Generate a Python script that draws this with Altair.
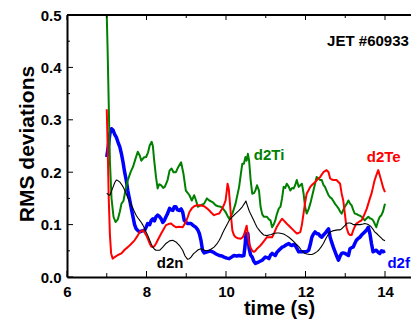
import altair as alt
import pandas as pd

# ---------------- data ----------------
ti_t = [7.00, 7.02, 7.05, 7.08, 7.12, 7.17, 7.22, 7.28, 7.33, 7.37, 7.42, 7.47, 7.53, 7.60, 7.66, 7.72,
        7.78, 7.83, 7.87, 7.93, 7.99, 8.04, 8.08, 8.13, 8.16, 8.19, 8.24, 8.28, 8.32, 8.37, 8.42, 8.46,
        8.53, 8.58, 8.63, 8.68, 8.74, 8.80, 8.87, 8.93, 8.99, 9.04, 9.08, 9.14, 9.20, 9.25, 9.29, 9.37,
        9.45, 9.52, 9.58, 9.66, 9.74, 9.80, 9.87, 9.93, 9.99, 10.05, 10.08, 10.16, 10.24, 10.33, 10.38,
        10.41, 10.45, 10.49, 10.52, 10.55, 10.58, 10.62, 10.66, 10.70, 10.74, 10.78, 10.83, 10.87, 10.91,
        10.95, 11.03, 11.08, 11.12, 11.16, 11.20, 11.24, 11.28, 11.33, 11.37, 11.41, 11.45, 11.49, 11.53,
        11.58, 11.62, 11.66, 11.70, 11.74, 11.78, 11.83, 11.87, 11.91, 11.95, 11.99, 12.03, 12.08, 12.12,
        12.16, 12.20, 12.24, 12.28, 12.33, 12.37, 12.41, 12.45, 12.49, 12.54, 12.58, 12.62, 12.66, 12.70,
        12.74, 12.78, 12.83, 12.87, 12.91, 12.95, 12.99, 13.04, 13.08, 13.12, 13.16, 13.20, 13.24, 13.29,
        13.33, 13.37, 13.41, 13.45, 13.49, 13.54, 13.58, 13.62, 13.66, 13.70, 13.74, 13.78, 13.83, 13.87,
        13.91, 13.95, 14.00]
ti_v = [0.500, 0.440, 0.330, 0.220, 0.150, 0.115, 0.105, 0.110, 0.125, 0.140, 0.145, 0.165, 0.185, 0.200, 0.210, 0.225,
        0.239, 0.232, 0.222, 0.228, 0.229, 0.238, 0.251, 0.258, 0.250, 0.225, 0.190, 0.169, 0.177, 0.175, 0.170, 0.172,
        0.185, 0.203, 0.207, 0.200, 0.200, 0.210, 0.219, 0.197, 0.165, 0.160, 0.156, 0.146, 0.156, 0.145, 0.134, 0.137,
        0.140, 0.150, 0.146, 0.143, 0.137, 0.135, 0.134, 0.130, 0.124, 0.115, 0.111, 0.121, 0.140, 0.172, 0.200,
        0.216, 0.216, 0.229, 0.222, 0.235, 0.223, 0.185, 0.159, 0.160, 0.165, 0.175, 0.165, 0.134, 0.120,
        0.115, 0.115, 0.110, 0.108, 0.095, 0.100, 0.108, 0.120, 0.131, 0.134, 0.150, 0.172, 0.170, 0.178,
        0.172, 0.165, 0.170, 0.169, 0.175, 0.185, 0.172, 0.175, 0.178, 0.160, 0.134, 0.121, 0.130, 0.140,
        0.152, 0.165, 0.178, 0.191, 0.188, 0.185, 0.185, 0.176, 0.172, 0.163, 0.156, 0.152, 0.150, 0.145,
        0.140, 0.136, 0.131, 0.125, 0.121, 0.128, 0.134, 0.140, 0.146, 0.140, 0.137, 0.128, 0.121, 0.120,
        0.118, 0.117, 0.115, 0.112, 0.108, 0.112, 0.115, 0.112, 0.111, 0.108, 0.102, 0.095, 0.108, 0.115,
        0.118, 0.125, 0.140]

te_t = [7.00, 7.02, 7.05, 7.08, 7.11, 7.15, 7.20, 7.28, 7.37, 7.45, 7.53, 7.60, 7.70, 7.77, 7.83, 7.91,
        7.96, 7.99, 8.04, 8.08, 8.12, 8.16, 8.20, 8.24, 8.30, 8.37, 8.43, 8.49, 8.55, 8.62, 8.68, 8.74,
        8.82, 8.91, 8.99, 9.04, 9.08, 9.14, 9.20, 9.27, 9.33, 9.40, 9.45, 9.52, 9.58, 9.64, 9.70, 9.77,
        9.83, 9.91, 9.96, 9.99, 10.02, 10.04, 10.07, 10.10, 10.12, 10.16, 10.20, 10.24, 10.30, 10.37,
        10.42, 10.45, 10.49, 10.52, 10.55, 10.58, 10.62, 10.66, 10.70, 10.74, 10.78, 10.84, 10.91, 10.97,
        11.03, 11.10, 11.16, 11.20, 11.24, 11.28, 11.33, 11.37, 11.41, 11.45, 11.49, 11.55, 11.62, 11.70,
        11.78, 11.83, 11.87, 11.91, 11.95, 11.99, 12.03, 12.08, 12.12, 12.18, 12.24, 12.30, 12.37, 12.45,
        12.53, 12.58, 12.62, 12.66, 12.70, 12.78, 12.87, 12.91, 12.95, 12.99, 13.03, 13.08, 13.12, 13.16,
        13.20, 13.24, 13.28, 13.34, 13.41, 13.45, 13.49, 13.54, 13.58, 13.62, 13.66, 13.70, 13.74, 13.79,
        13.83, 13.88, 13.92, 13.96, 14.00]
te_v = [0.320, 0.260, 0.150, 0.080, 0.045, 0.035, 0.038, 0.042, 0.045, 0.052, 0.057, 0.062, 0.070, 0.078, 0.086, 0.089,
        0.084, 0.080, 0.072, 0.064, 0.058, 0.057, 0.059, 0.064, 0.073, 0.083, 0.091, 0.099, 0.101, 0.102, 0.098, 0.095,
        0.096, 0.095, 0.105, 0.115, 0.124, 0.131, 0.135, 0.137, 0.137, 0.136, 0.135, 0.131, 0.127, 0.122, 0.118, 0.120,
        0.121, 0.131, 0.140, 0.146, 0.165, 0.178, 0.168, 0.140, 0.121, 0.089, 0.080, 0.076, 0.074, 0.073,
        0.076, 0.080, 0.090, 0.098, 0.080, 0.064, 0.056, 0.050, 0.048, 0.050, 0.054, 0.058, 0.064, 0.070,
        0.076, 0.076, 0.076, 0.082, 0.089, 0.096, 0.102, 0.107, 0.111, 0.108, 0.105, 0.100, 0.095, 0.089,
        0.083, 0.084, 0.086, 0.100, 0.121, 0.142, 0.159, 0.166, 0.172, 0.177, 0.181, 0.186, 0.191, 0.200,
        0.204, 0.200, 0.188, 0.186, 0.185, 0.185, 0.178, 0.159, 0.146, 0.121, 0.095, 0.083, 0.080, 0.080,
        0.089, 0.096, 0.102, 0.105, 0.108, 0.114, 0.121, 0.130, 0.140, 0.150, 0.159, 0.172, 0.185, 0.196,
        0.204, 0.191, 0.180, 0.169, 0.162]

f_t = [7.00, 7.04, 7.08, 7.12, 7.16, 7.20, 7.24, 7.28, 7.33, 7.37, 7.41, 7.45, 7.49, 7.53, 7.58, 7.62,
       7.66, 7.70, 7.74, 7.79, 7.83, 7.89, 7.95, 7.99, 8.03, 8.08, 8.12, 8.16, 8.20, 8.24, 8.28, 8.33,
       8.37, 8.41, 8.45, 8.49, 8.53, 8.58, 8.62, 8.66, 8.70, 8.74, 8.78, 8.83, 8.87, 8.91, 8.95, 9.00,
       9.03, 9.12, 9.18, 9.24, 9.29, 9.33, 9.37, 9.41, 9.45, 9.53, 9.60, 9.66, 9.75, 9.83, 9.90, 9.95,
       10.02, 10.08, 10.14, 10.20, 10.27, 10.33, 10.40, 10.45, 10.48, 10.50, 10.53, 10.55, 10.58, 10.62,
       10.66, 10.70, 10.74, 10.83, 10.91, 10.99, 11.04, 11.08, 11.12, 11.16, 11.20, 11.24, 11.28, 11.33,
       11.37, 11.41, 11.45, 11.49, 11.53, 11.58, 11.62, 11.66, 11.70, 11.74, 11.78, 11.83, 11.91, 11.99,
       12.04, 12.08, 12.12, 12.16, 12.20, 12.24, 12.28, 12.33, 12.37, 12.41, 12.45, 12.49, 12.54, 12.58,
       12.62, 12.66, 12.70, 12.74, 12.78, 12.83, 12.87, 12.91, 12.95, 12.99, 13.04, 13.08, 13.12, 13.16,
       13.20, 13.24, 13.28, 13.33, 13.37, 13.41, 13.45, 13.49, 13.53, 13.58, 13.62, 13.66, 13.70, 13.74,
       13.78, 13.83, 13.87, 13.91, 13.95, 14.00]
f_v = [0.229, 0.250, 0.274, 0.283, 0.280, 0.272, 0.267, 0.258, 0.248, 0.235, 0.219, 0.200, 0.185, 0.165, 0.146, 0.130,
       0.115, 0.100, 0.092, 0.088, 0.086, 0.088, 0.089, 0.095, 0.102, 0.100, 0.108, 0.111, 0.107, 0.115, 0.118, 0.115,
       0.111, 0.104, 0.108, 0.115, 0.121, 0.131, 0.128, 0.127, 0.134, 0.134, 0.128, 0.127, 0.130, 0.124, 0.108, 0.104,
       0.102, 0.102, 0.098, 0.095, 0.090, 0.083, 0.070, 0.051, 0.046, 0.048, 0.050, 0.048, 0.044, 0.041, 0.040, 0.038,
       0.036, 0.035, 0.038, 0.041, 0.040, 0.041, 0.040, 0.041, 0.060, 0.083, 0.070, 0.083, 0.055, 0.042,
       0.038, 0.030, 0.026, 0.029, 0.032, 0.038, 0.037, 0.035, 0.042, 0.045, 0.043, 0.041, 0.047, 0.051,
       0.054, 0.057, 0.058, 0.060, 0.062, 0.064, 0.061, 0.060, 0.062, 0.060, 0.055, 0.048, 0.048, 0.048,
       0.049, 0.051, 0.062, 0.076, 0.082, 0.086, 0.083, 0.082, 0.078, 0.076, 0.080, 0.083, 0.088, 0.092,
       0.076, 0.066, 0.057, 0.049, 0.041, 0.032, 0.040, 0.045, 0.046, 0.045, 0.043, 0.041, 0.054, 0.056,
       0.057, 0.064, 0.070, 0.074, 0.076, 0.080, 0.083, 0.086, 0.089, 0.095, 0.083, 0.064, 0.048, 0.050,
       0.051, 0.047, 0.045, 0.050, 0.048, 0.050]

n_t = [7.00, 7.04, 7.08, 7.12, 7.16, 7.20, 7.24, 7.28, 7.33, 7.37, 7.41, 7.45, 7.49, 7.53, 7.58, 7.62,
       7.66, 7.70, 7.74, 7.78, 7.83, 7.87, 7.91, 7.95, 7.99, 8.04, 8.08, 8.12, 8.16, 8.20, 8.24, 8.33,
       8.41, 8.49, 8.58, 8.66, 8.74, 8.83, 8.91, 8.97, 9.03, 9.08, 9.12, 9.18, 9.24, 9.30, 9.37, 9.43,
       9.49, 9.58, 9.64, 9.70, 9.77, 9.83, 9.87, 9.91, 9.95, 9.99, 10.04, 10.08, 10.16, 10.24, 10.33,
       10.41, 10.47, 10.50, 10.53, 10.58, 10.62, 10.66, 10.70, 10.74, 10.78, 10.83, 10.87, 10.91, 10.95,
       11.03, 11.08, 11.14, 11.20, 11.27, 11.33, 11.40, 11.45, 11.52, 11.58, 11.64, 11.70, 11.76, 11.83,
       11.89, 11.95, 11.99, 12.04, 12.10, 12.16, 12.22, 12.28, 12.33, 12.39, 12.45, 12.49, 12.53, 12.58,
       12.62, 12.68, 12.74, 12.81, 12.87, 12.91, 12.95, 12.99, 13.03, 13.08, 13.12, 13.16, 13.20, 13.28,
       13.37, 13.45, 13.49, 13.54, 13.58, 13.62, 13.66, 13.70, 13.74, 13.79, 13.83, 13.87, 13.91, 13.95,
       14.00]
n_v = [0.160, 0.157, 0.156, 0.164, 0.172, 0.180, 0.185, 0.184, 0.181, 0.177, 0.172, 0.166, 0.159, 0.151, 0.143, 0.137,
       0.131, 0.124, 0.118, 0.113, 0.108, 0.104, 0.099, 0.093, 0.086, 0.078, 0.070, 0.063, 0.057, 0.053, 0.051, 0.051,
       0.057, 0.064, 0.069, 0.070, 0.067, 0.060, 0.051, 0.040, 0.034, 0.035, 0.038, 0.044, 0.048, 0.052, 0.054, 0.052,
       0.050, 0.051, 0.054, 0.057, 0.063, 0.070, 0.076, 0.083, 0.089, 0.095, 0.102, 0.108, 0.115, 0.121, 0.127,
       0.134, 0.141, 0.145, 0.138, 0.127, 0.120, 0.114, 0.108, 0.101, 0.095, 0.090, 0.086, 0.083, 0.080,
       0.079, 0.080, 0.081, 0.083, 0.084, 0.084, 0.083, 0.082, 0.079, 0.076, 0.072, 0.068, 0.063, 0.058,
       0.052, 0.047, 0.045, 0.044, 0.043, 0.043, 0.045, 0.048, 0.051, 0.057, 0.064, 0.070, 0.076, 0.082,
       0.086, 0.088, 0.089, 0.090, 0.090, 0.092, 0.095, 0.098, 0.102, 0.103, 0.103, 0.102, 0.100, 0.100,
       0.100, 0.101, 0.102, 0.101, 0.100, 0.098, 0.095, 0.091, 0.086, 0.083, 0.080, 0.077, 0.074, 0.071,
       0.069]

label_text = ["d2Ti", "d2Te", "d2n", "d2f", "JET #60933"]
label_t = [10.70, 13.54, 8.26, 14.06, 14.60]
label_v = [0.223, 0.220, 0.017, 0.017, 0.441]
label_color = ["#008000", "#ff0000", "#000000", "#0000ff", "#000000"]
label_align = ["left", "left", "left", "left", "right"]

x_major = [6, 8, 10, 12, 14]
x_minor = [7, 9, 11, 13]
y_major = [0.0, 0.1, 0.2, 0.3, 0.4, 0.5]
y_minor = [0.05, 0.15, 0.25, 0.35, 0.45]

# ---------------- chart ----------------
FONT = "Liberation Sans"
W, H = 344, 262
xscale = alt.Scale(domain=[6, 14.654], nice=False, zero=False)
yscale = alt.Scale(domain=[0, 0.5], nice=False)

xaxis = alt.Axis(values=x_major, format="d", ticks=False, grid=False, domainWidth=2,
                 domainColor="black", labelFont=FONT, labelFontWeight="bold", labelFontSize=15,
                 labelColor="black", labelPadding=7, labelFlush=False,
                 title="time (s)", titleFont=FONT, titleFontWeight="bold", titleFontSize=20,
                 titleColor="black", titleX=212, titleY=37, titleBaseline="alphabetic",
                 titleAlign="center")
yaxis = alt.Axis(values=y_major, format=".1f", ticks=False, grid=False, domainWidth=2,
                 domainColor="black", labelFont=FONT, labelFontWeight="bold", labelFontSize=15,
                 labelColor="black", labelPadding=6, labelFlush=False,
                 title="RMS deviations", titleFont=FONT, titleFontWeight="bold", titleFontSize=21,
                 titleColor="black", titleX=-34, titleY=128.5, titleBaseline="alphabetic",
                 titleAlign="center")

X = lambda: alt.X("t:Q", scale=xscale, axis=xaxis)
Y = lambda: alt.Y("v:Q", scale=yscale, axis=yaxis)


def series(ts, vs, color, width):
    df = pd.DataFrame({"t": ts, "v": vs})
    return alt.Chart(df).mark_line(color=color, strokeWidth=width, clip=True,
                                   strokeJoin="round").encode(x=X(), y=Y())


blue = series(f_t, f_v, "#0000ff", 3.5)
green = series(ti_t, ti_v, "#008000", 2)
red = series(te_t, te_v, "#ff0000", 2)
black = series(n_t, n_v, "#000000", 1.1)

top_line = alt.Chart(pd.DataFrame({"a": [0]})).mark_rule(color="black", strokeWidth=2).encode(
    y=alt.value(0))


def xticks(vals, y0, y1):
    return alt.Chart(pd.DataFrame({"t": vals})).mark_rule(color="black", strokeWidth=1).encode(
        x=X(), y=alt.value(y0), y2=alt.value(y1))


def yticks(vals, length):
    return alt.Chart(pd.DataFrame({"v": vals})).mark_rule(color="black", strokeWidth=1).encode(
        y=Y(), x=alt.value(0), x2=alt.value(length))


ticks = [
    xticks(x_major, H, H - 6), xticks(x_minor, H, H - 4),
    xticks(x_major, 0, 5), xticks(x_minor, 0, 3),
    yticks(y_major, 6), yticks(y_minor, 3),
]

labels_df = pd.DataFrame({"t": label_t, "v": label_v, "txt": label_text,
                          "c": label_color, "al": label_align})
lab_left = alt.Chart(labels_df[labels_df["al"] == "left"]).mark_text(
    align="left", baseline="alphabetic", font=FONT, fontWeight="bold", fontSize=15).encode(
    x=X(), y=Y(), text="txt:N", color=alt.Color("c:N", scale=None))
lab_right = alt.Chart(labels_df[labels_df["al"] == "right"]).mark_text(
    align="right", baseline="alphabetic", font=FONT, fontWeight="bold", fontSize=15).encode(
    x=X(), y=Y(), text="txt:N", color=alt.Color("c:N", scale=None))

chart = alt.layer(blue, green, red, black, top_line, *ticks, lab_left, lab_right).properties(
    width=W, height=H,
    autosize=alt.AutoSizeParams(type="none"),
    padding={"left": 59, "top": 7, "right": 0, "bottom": 43},
    background="white",
).configure_view(stroke=None)

chart.save("out.html", embed_options={"renderer": "svg", "actions": False})
